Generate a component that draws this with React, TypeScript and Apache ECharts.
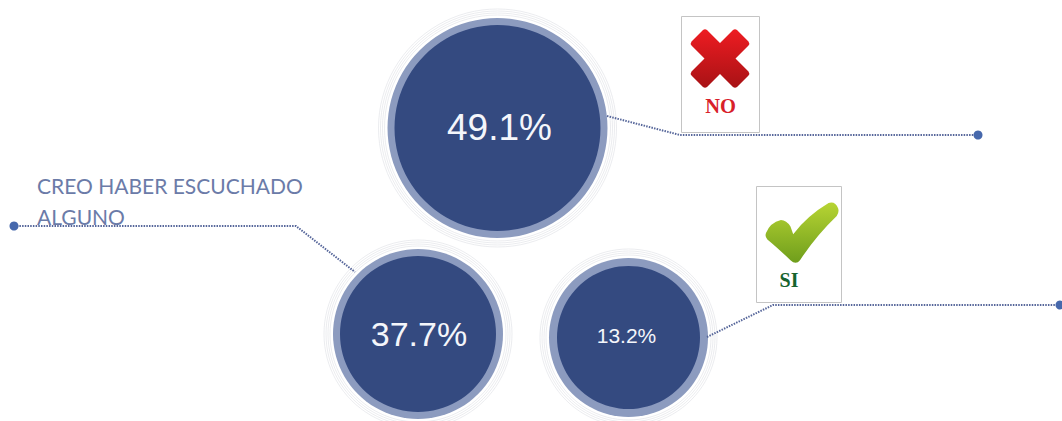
import React, { useEffect, useRef } from "react";
import * as echarts from "echarts";

// Survey answers and their shares
const answers = ["NO", "CREO HABER ESCUCHADO ALGUNO", "SI"];
const shares = [49.1, 37.7, 13.2];

const WIDTH = 1062;
const HEIGHT = 421;

// Bubble placement in page pixels: centre, outer radius, ring width, label size and nudge
const bubbleLayout = [
  { cx: 497.5, cy: 128, r: 110, ring: 7, font: 37, nudge: [2, -1] },
  { cx: 418, cy: 334, r: 85, ring: 7, font: 34, nudge: [1, 0] },
  { cx: 628.5, cy: 337.5, r: 79.5, ring: 8, font: 21, nudge: [-2, -2] },
];

const crossPath =
  "M24 0 L50 26 L76 0 Q80 -3 84 0 L107 23 Q110 27 107 31 L81 57 L107 83 Q110 87 107 91 L84 114 Q80 117 76 114 L50 88 L24 114 Q20 117 16 114 L-7 91 Q-10 87 -7 83 L19 57 L-7 31 Q-10 27 -7 23 L16 0 Q20 -3 24 0 Z";
const checkPath =
  "M0 46 Q6 30 22 26 Q30 26 36 36 L40 48 Q60 20 92 0 Q102 -3 106 8 Q108 14 104 20 Q74 50 50 88 Q44 96 36 88 Q16 68 2 56 Q-2 52 0 46 Z";
echarts.graphic.registerShape("crossMark", echarts.graphic.extendPath(crossPath, {}) as any);
echarts.graphic.registerShape("checkMark", echarts.graphic.extendPath(checkPath, {}) as any);

export default function App() {
  const ref = useRef<HTMLDivElement>(null);

  useEffect(() => {
    const chart = echarts.init(ref.current!, undefined, { renderer: "svg" });

    const point = (l: (typeof bubbleLayout)[number]) => [l.cx, l.cy];
    const faintRing = (offset: number) => ({
      type: "scatter",
      silent: true,
      data: bubbleLayout.map(point),
      symbolSize: (_: unknown, p: any) => (bubbleLayout[p.dataIndex].r + offset) * 2,
      itemStyle: { color: "none", borderColor: "#e3e4e8", borderWidth: 0.7, opacity: 1 },
      z: 1,
    });

    const leader = (points: number[][]) => ({
      type: "polyline",
      silent: true,
      shape: { points },
      style: { stroke: "#56669a", lineWidth: 2, lineDash: [1.5, 1.2], fill: "none" },
      z: 5,
    });
    const dot = (x: number, y: number) => ({
      type: "circle",
      silent: true,
      shape: { cx: x, cy: y, r: 4.5 },
      style: { fill: "#4668ac" },
      z: 6,
    });
    const card = (x: number, y: number, w: number, h: number) => ({
      type: "rect",
      silent: true,
      shape: { x: x + 0.5, y: y + 0.5, width: w, height: h },
      style: { fill: "#fff", stroke: "#c4c4c4", lineWidth: 1 },
      z: 3,
    });
    const cardLabel = (text: string, x: number, y: number, fill: string, size: number) => ({
      type: "text",
      silent: true,
      x,
      y,
      style: {
        text,
        fill,
        font: `bold ${size}px "Liberation Serif", serif`,
        align: "center",
        verticalAlign: "middle",
      },
      z: 4,
    });

    chart.setOption({
      animation: false,
      grid: { left: 0, right: 0, top: 0, bottom: 0 },
      xAxis: { type: "value", min: 0, max: WIDTH, show: false },
      yAxis: { type: "value", min: 0, max: HEIGHT, inverse: true, show: false },
      series: [
        faintRing(3),
        faintRing(5),
        faintRing(7),
        faintRing(9),
        {
          type: "scatter",
          silent: true,
          data: bubbleLayout.map(point),
          symbolSize: (_: unknown, p: any) => bubbleLayout[p.dataIndex].r * 2,
          itemStyle: { color: "#8c9bbf", opacity: 1 },
          z: 2,
        },
        {
          type: "scatter",
          silent: true,
          data: bubbleLayout.map((l, i) => ({
            value: point(l),
            name: answers[i],
            label: { offset: l.nudge },
          })),
          symbolSize: (_: unknown, p: any) =>
            (bubbleLayout[p.dataIndex].r - bubbleLayout[p.dataIndex].ring) * 2,
          itemStyle: { color: "#344a80", opacity: 1 },
          label: {
            show: true,
            position: "inside",
            formatter: (p: any) =>
              `{s${p.dataIndex}|${shares[p.dataIndex].toFixed(1)}%}`,
            rich: Object.fromEntries(
              bubbleLayout.map((l, i) => [
                `s${i}`,
                {
                  fontSize: l.font,
                  color: "#f4f6fb",
                  fontFamily: '"Liberation Sans", Arial, sans-serif',
                },
              ]),
            ),
          },
          z: 3,
        },
      ],
      graphic: [
        leader([[607, 116], [680, 135], [978, 135]]),
        dot(978, 135),
        leader([[14, 226], [296, 226], [355, 272]]),
        dot(14, 226),
        leader([[707, 337], [773, 305], [1060, 305]]),
        dot(1060, 305),
        card(681, 16, 78, 116),
        {
          type: "crossMark",
          silent: true,
          x: 695,
          y: 30,
          scaleX: 0.5,
          scaleY: 0.5,
          style: {
            fill: new echarts.graphic.LinearGradient(0, 0, 0, 1, [
              { offset: 0, color: "#ee1c22" },
              { offset: 1, color: "#a81215" },
            ]),
          },
          z: 4,
        },
        cardLabel(answers[0], 720.5, 106, "#d8202a", 20.5),
        card(756, 186, 85, 116),
        {
          type: "checkMark",
          silent: true,
          x: 766,
          y: 203,
          scaleX: 0.68,
          scaleY: 0.65,
          style: {
            fill: new echarts.graphic.LinearGradient(0, 0, 0, 1, [
              { offset: 0, color: "#b7d433" },
              { offset: 1, color: "#6f9e1c" },
            ]),
          },
          z: 4,
        },
        cardLabel(answers[2], 789, 280, "#17632e", 20),
        {
          type: "text",
          silent: true,
          x: 37,
          y: 169.5,
          style: {
            text: "CREO HABER ESCUCHADO\nALGUNO",
            fill: "#6b7ba8",
            font: '21px Lato, "Open Sans", sans-serif',
            lineHeight: 31,
          },
          z: 7,
        },
      ],
    });

    return () => chart.dispose();
  }, []);

  return (
    <div
      ref={ref}
      style={{ position: "absolute", left: 0, top: 0, width: WIDTH, height: HEIGHT, background: "#fff" }}
    />
  );
}
